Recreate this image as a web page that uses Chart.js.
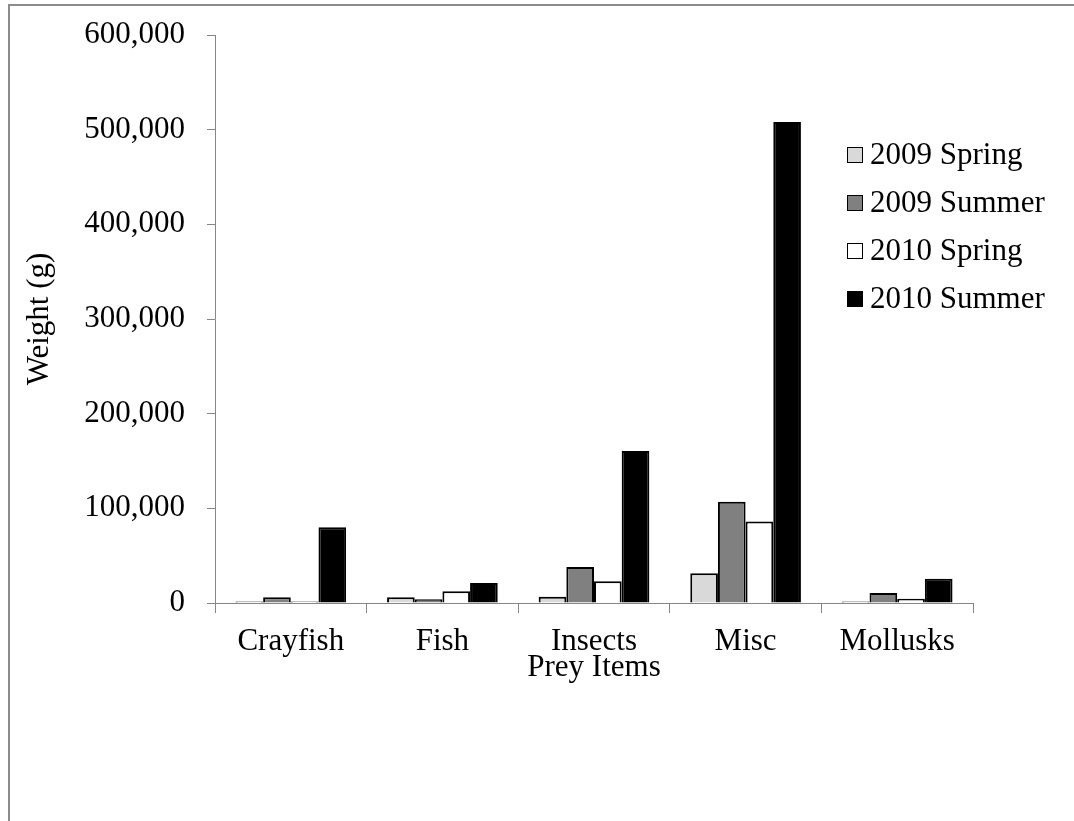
<!DOCTYPE html>
<html>
<head>
<meta charset="utf-8">
<title>Prey Items</title>
<script src="https://cdn.jsdelivr.net/npm/chart.js@4.4.1/dist/chart.umd.min.js"></script>
<style>
    html, body {
        margin: 0;
        padding: 0;
        background: #ffffff;
        overflow: hidden;
    }
    #frame {
        position: absolute;
        left: 8px;
        top: 4px;
        width: 1200px;
        height: 1000px;
        border: 2px solid #8c8c8c;
    }
    #wrap {
        position: absolute;
        left: 0;
        top: 0;
        width: 1074px;
        height: 821px;
    }
</style>
</head>
<body>
<div id="frame"></div>
<div id="wrap"><canvas id="PreyChart" width="1074" height="821"></canvas></div>
<script>
// values (grams)
const categories = ['Crayfish', 'Fish', 'Insects', 'Misc', 'Mollusks'];
const seriesLabels = ['2009 Spring', '2009 Summer', '2010 Spring', '2010 Summer'];
const spring2009 = [1500, 6000, 6500, 31500, 1500];
const summer2009 = [6000, 4000, 38000, 107000, 10500];
const spring2010 = [1500, 12500, 23000, 86000, 4500];
const summer2010 = [80000, 21000, 160500, 508000, 25500];
const yTicks = [0, 100000, 200000, 300000, 400000, 500000, 600000];

const fills = ['#d9d9d9', '#808080', '#ffffff', '#000000'];

Chart.defaults.font.family = '"Liberation Serif", "Times New Roman", serif';
Chart.defaults.font.size = 31;
Chart.defaults.color = '#000000';

// legend sits inside the plot, on the right, like the Excel original
const insideLegend = {
    id: 'insideLegend',
    afterDraw(chart) {
        const ctx = chart.ctx;
        const x = 847;
        let y = 155;
        ctx.save();
        ctx.font = '31px "Liberation Serif", "Times New Roman", serif';
        ctx.textBaseline = 'middle';
        ctx.textAlign = 'left';
        chart.data.datasets.forEach(function (ds) {
            ctx.fillStyle = ds.backgroundColor;
            ctx.fillRect(x, y - 8, 16, 16);
            ctx.strokeStyle = '#000000';
            ctx.lineWidth = 1;
            ctx.strokeRect(x + 0.5, y - 7.5, 15, 15);
            ctx.fillStyle = '#000000';
            ctx.fillText(ds.label, x + 23, y + 1);
            y += 48;
        });
        ctx.restore();
    }
};

const allSeries = [spring2009, summer2009, spring2010, summer2010];

const data_prey = {
    labels: categories,
    datasets: allSeries.map(function (values, i) {
        return {
            label: seriesLabels[i],
            data: values,
            backgroundColor: fills[i],
            borderColor: '#000000',
            borderWidth: 2,
            categoryPercentage: 0.73,
            barPercentage: 1.0,
        };
    })
};

const config_prey = {
    type: 'bar',
    data: data_prey,
    plugins: [insideLegend],
    options: {
        responsive: false,
        animation: false,
        layout: {
            padding: { left: 0, top: 35, right: 101, bottom: 135 }
        },
        plugins: {
            legend: { display: false },
            tooltip: { enabled: false },
        },
        scales: {
            x: {
                afterFit: function (scale) { scale.height = 83; },
                grid: {
                    offset: true,
                    drawOnChartArea: false,
                    drawTicks: true,
                    tickLength: 10,
                    color: '#868686',
                    lineWidth: 1,
                },
                border: { color: '#868686', width: 1 },
                ticks: { padding: 10, color: '#000000' },
                title: {
                    display: true,
                    text: 'Prey Items',
                    padding: 0,
                    color: '#000000',
                },
            },
            y: {
                min: 0,
                max: 600000,
                afterFit: function (scale) {
                    scale.width = 215;
                    scale.paddingTop = 0;
                },
                afterBuildTicks: function (scale) {
                    scale.ticks = yTicks.map(function (v) { return { value: v }; });
                },
                grid: {
                    drawOnChartArea: false,
                    drawTicks: true,
                    tickLength: 8,
                    color: '#868686',
                    lineWidth: 1,
                },
                border: { color: '#868686', width: 1 },
                ticks: {
                    padding: 22,
                    color: '#000000',
                    callback: function (v) { return v.toLocaleString('en-US'); }
                },
                title: {
                    display: true,
                    text: 'Weight (g)',
                    padding: { top: 21, bottom: 0 },
                    color: '#000000',
                },
            }
        }
    }
};

var PreyChart = new Chart(
    document.getElementById('PreyChart'),
    config_prey
);
</script>
</body>
</html>
